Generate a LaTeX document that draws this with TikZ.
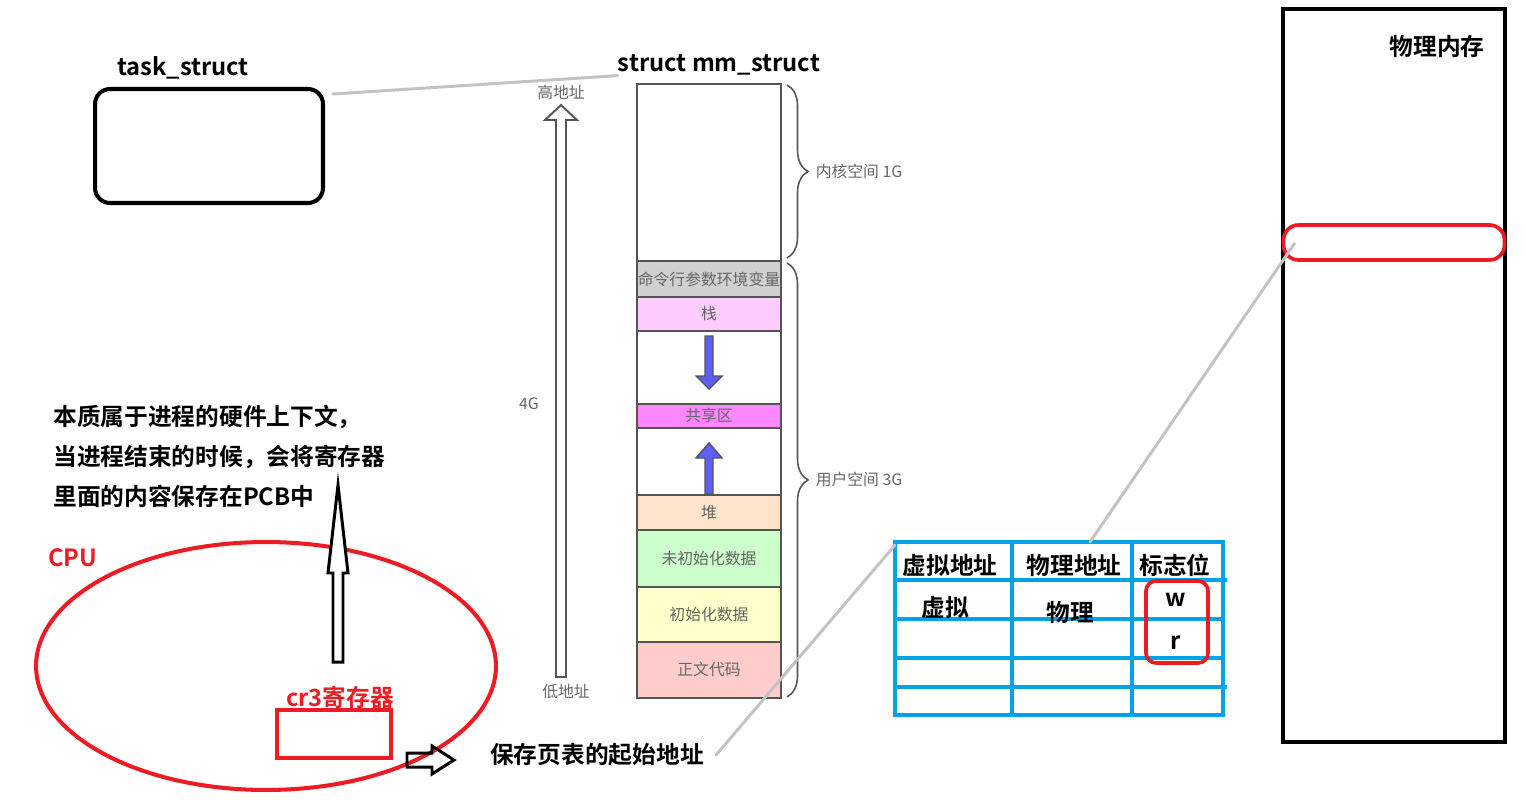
\documentclass[tikz,border=0pt]{standalone}
\usepackage{fontspec}
\setmainfont{Noto Sans CJK SC}[BoldFont={* Bold}]
\usepackage{xcolor}
\usetikzlibrary{
    positioning,
    shapes.geometric,
    decorations.pathreplacing
}
\definecolor{paintred}{HTML}{ED1C24}
\definecolor{paintblue}{HTML}{00A2E8}
\definecolor{linkgray}{HTML}{C3C3C3}
\definecolor{segline}{HTML}{555555}
\definecolor{segtext}{HTML}{666666}
\definecolor{growblue}{HTML}{5E5EFF}
\definecolor{argsfill}{HTML}{D0D0D0}
\definecolor{stackfill}{HTML}{FFCCFF}
\definecolor{sharedfill}{HTML}{FF88FF}
\definecolor{heapfill}{HTML}{FFE4CC}
\definecolor{bssfill}{HTML}{CCFFCC}
\definecolor{datafill}{HTML}{FFFFCC}
\definecolor{codefill}{HTML}{FFCCCC}

\begin{document}
\begin{tikzpicture}[
    x=0.02cm, y=-0.02cm,
    boldtext/.style={
        font=\fontsize{13.5pt}{16pt}\selectfont\bfseries,
        inner sep=0pt
    },
    redtext/.style={
        boldtext,
        text=paintred
    },
    seg/.style={
        draw=segline,
        line width=1.1pt,
        minimum width=2.88cm,
        inner sep=0pt,
        outer sep=0pt,
        font=\fontsize{9pt}{10pt}\selectfont,
        text=segtext
    },
    smalltext/.style={
        font=\fontsize{9pt}{10pt}\selectfont,
        text=segtext,
        inner sep=0pt
    },
    blackframe/.style={
        draw,
        line width=2.3pt,
        inner sep=0pt,
        outer sep=0pt
    },
    redframe/.style={
        draw=paintred,
        line width=2.1pt,
        inner sep=0pt,
        outer sep=0pt
    },
    bracket/.style={
        draw=segline,
        line width=0.9pt,
        decorate,
        decoration={brace, amplitude=12pt}
    },
    growarrow/.style={draw=segline, line width=0.8pt, fill=growblue},
    hollowarrow/.style={draw, line width=1.7pt, line join=miter},
    linkline/.style={draw=linkgray, line width=1.7pt, line cap=round},
    tablegrid/.style={draw=paintblue, line width=2.3pt}
]

\useasboundingbox (0,0) rectangle (1525,801);

\node[boldtext] (tasklabel) at (183,68) {task\_struct};
\node[blackframe, rounded corners=0.3cm, minimum width=4.56cm, minimum height=2.28cm]
    (task) at (209,146) {};

\node[boldtext] (mmlabel) at (719,65) {struct mm\_struct};

\node[seg, minimum height=3.54cm, anchor=north] (kernel) at (709,84) {};
\node[seg, below=0pt of kernel, fill=argsfill, minimum height=0.72cm]
    (args) {命令行参数环境变量};
\node[seg, below=0pt of args, fill=stackfill, minimum height=0.68cm]
    (stack) {栈};
\node[seg, below=0pt of stack, minimum height=1.46cm] (gapdown) {};
\node[seg, below=0pt of gapdown, fill=sharedfill, minimum height=0.48cm]
    (shared) {共享区};
\node[seg, below=0pt of shared, minimum height=1.34cm] (gapup) {};
\node[seg, below=0pt of gapup, fill=heapfill, minimum height=0.70cm]
    (heap) {堆};
\node[seg, below=0pt of heap, fill=bssfill, minimum height=1.14cm]
    (bss) {未初始化数据};
\node[seg, below=0pt of bss, fill=datafill, minimum height=1.10cm]
    (data) {初始化数据};
\node[seg, below=0pt of data, fill=codefill, minimum height=1.12cm]
    (code) {正文代码};

\draw[growarrow] (705,336) -- (713,336) -- (713,376) -- (722,376) -- (709,389)
    -- (696,376) -- (705,376) -- cycle;
\draw[growarrow] (705,494) -- (705,458) -- (696,458) -- (709,443) -- (722,458)
    -- (713,458) -- (713,494) -- cycle;

\draw[bracket] ([shift={(6,1)}]kernel.north east) -- ([shift={(6,-3)}]kernel.south east)
    node[smalltext, midway, anchor=west, xshift=0.56cm] (kernelspace) {内核空间 1G};
\draw[bracket] ([shift={(6,2)}]args.north east) -- ([shift={(6,-1)}]code.south east)
    node[smalltext, midway, anchor=west, xshift=0.56cm] (userspace) {用户空间 3G};

\node[smalltext] (high) at (561,92) {高地址};
\node[smalltext] (low) at (566,692) {低地址};
\node[smalltext] (fourg) at (529,404) {4G};
\draw[hollowarrow, draw=segline, line width=1.1pt] (556,677) -- (556,120) -- (545,120)
    -- (561,105) -- (577,120) -- (566,120) -- (566,677) -- cycle;

\draw[linkline] ([shift={(10,5)}]task.north east) -- (mmlabel.south west);

\node[blackframe, draw=paintblue, minimum width=6.56cm, minimum height=3.46cm]
    (pagetable) at (1059,628.5) {};
\draw[tablegrid] (1012,542) -- (1012,715);
\draw[tablegrid] (1132,542) -- (1132,715);
\draw[tablegrid] (895,580) -- (1227,580);
\draw[tablegrid] (895,619) -- (1223,619);
\draw[tablegrid] (895,658) -- (1223,658);
\draw[tablegrid] (895,687) -- (1227,687);

\node[boldtext] (virthead) at (950,565) {虚拟地址};
\node[boldtext] (physhead) at (1074,565) {物理地址};
\node[boldtext] (flaghead) at (1175,565) {标志位};
\node[boldtext] (virt) at (945,607) {虚拟};
\node[boldtext] (phys) at (1070,612) {物理};
\node[boldtext] (wbit) at (1176,600) {w};
\node[boldtext] (rbit) at (1176,643) {r};
\node[redframe, rounded corners=0.2cm, minimum width=1.24cm, minimum height=1.64cm]
    (flagbox) at (1177,622) {};

\node[blackframe, minimum width=4.44cm, minimum height=14.66cm] (physmem) at (1394,375.5) {};
\node[boldtext] (physlabel) at (1437,47) {物理内存};
\node[redframe, rounded corners=0.3cm, minimum width=4.42cm, minimum height=0.7cm]
    (pageframe) at (1394,242.5) {};

\draw[linkline] ([xshift=0.62cm]pagetable.north) -- ([shift={(11,1)}]pageframe.west);

\node[redframe, ellipse, line width=2.3pt, minimum width=9.2cm, minimum height=4.96cm]
    (cpu) at (266,666) {};
\node[redtext] (cpulabel) at (73,558) {CPU};
\node[redtext] (cr3label) at (340,697) {cr3寄存器};
\node[redframe, line width=2.3pt, minimum width=2.28cm, minimum height=0.96cm]
    (cr3) at (334,734) {};

\node[boldtext, anchor=north west, align=left, font=\fontsize{13.5pt}{22.8pt}\selectfont\bfseries]
    (ctxnote) at (53,405)
    {本质属于进程的硬件上下文，\\当进程结束的时候，会将寄存器\\里面的内容保存在PCB中};
\draw[hollowarrow, fill=white] (333,662) -- (333,573) -- (328,573) -- (338,485)
    -- (348,573) -- (343,573) -- (343,662) -- cycle;

\node[boldtext] (savetext) at (597,755) {保存页表的起始地址};
\draw[hollowarrow] (407,753) -- (432,753) -- (432,746) -- (454,760) -- (432,774)
    -- (432,767) -- (407,767) -- cycle;

\draw[linkline] ([xshift=0.24cm]savetext.east) -- ([yshift=-0.06cm]pagetable.north west);

\end{tikzpicture}
\end{document}
